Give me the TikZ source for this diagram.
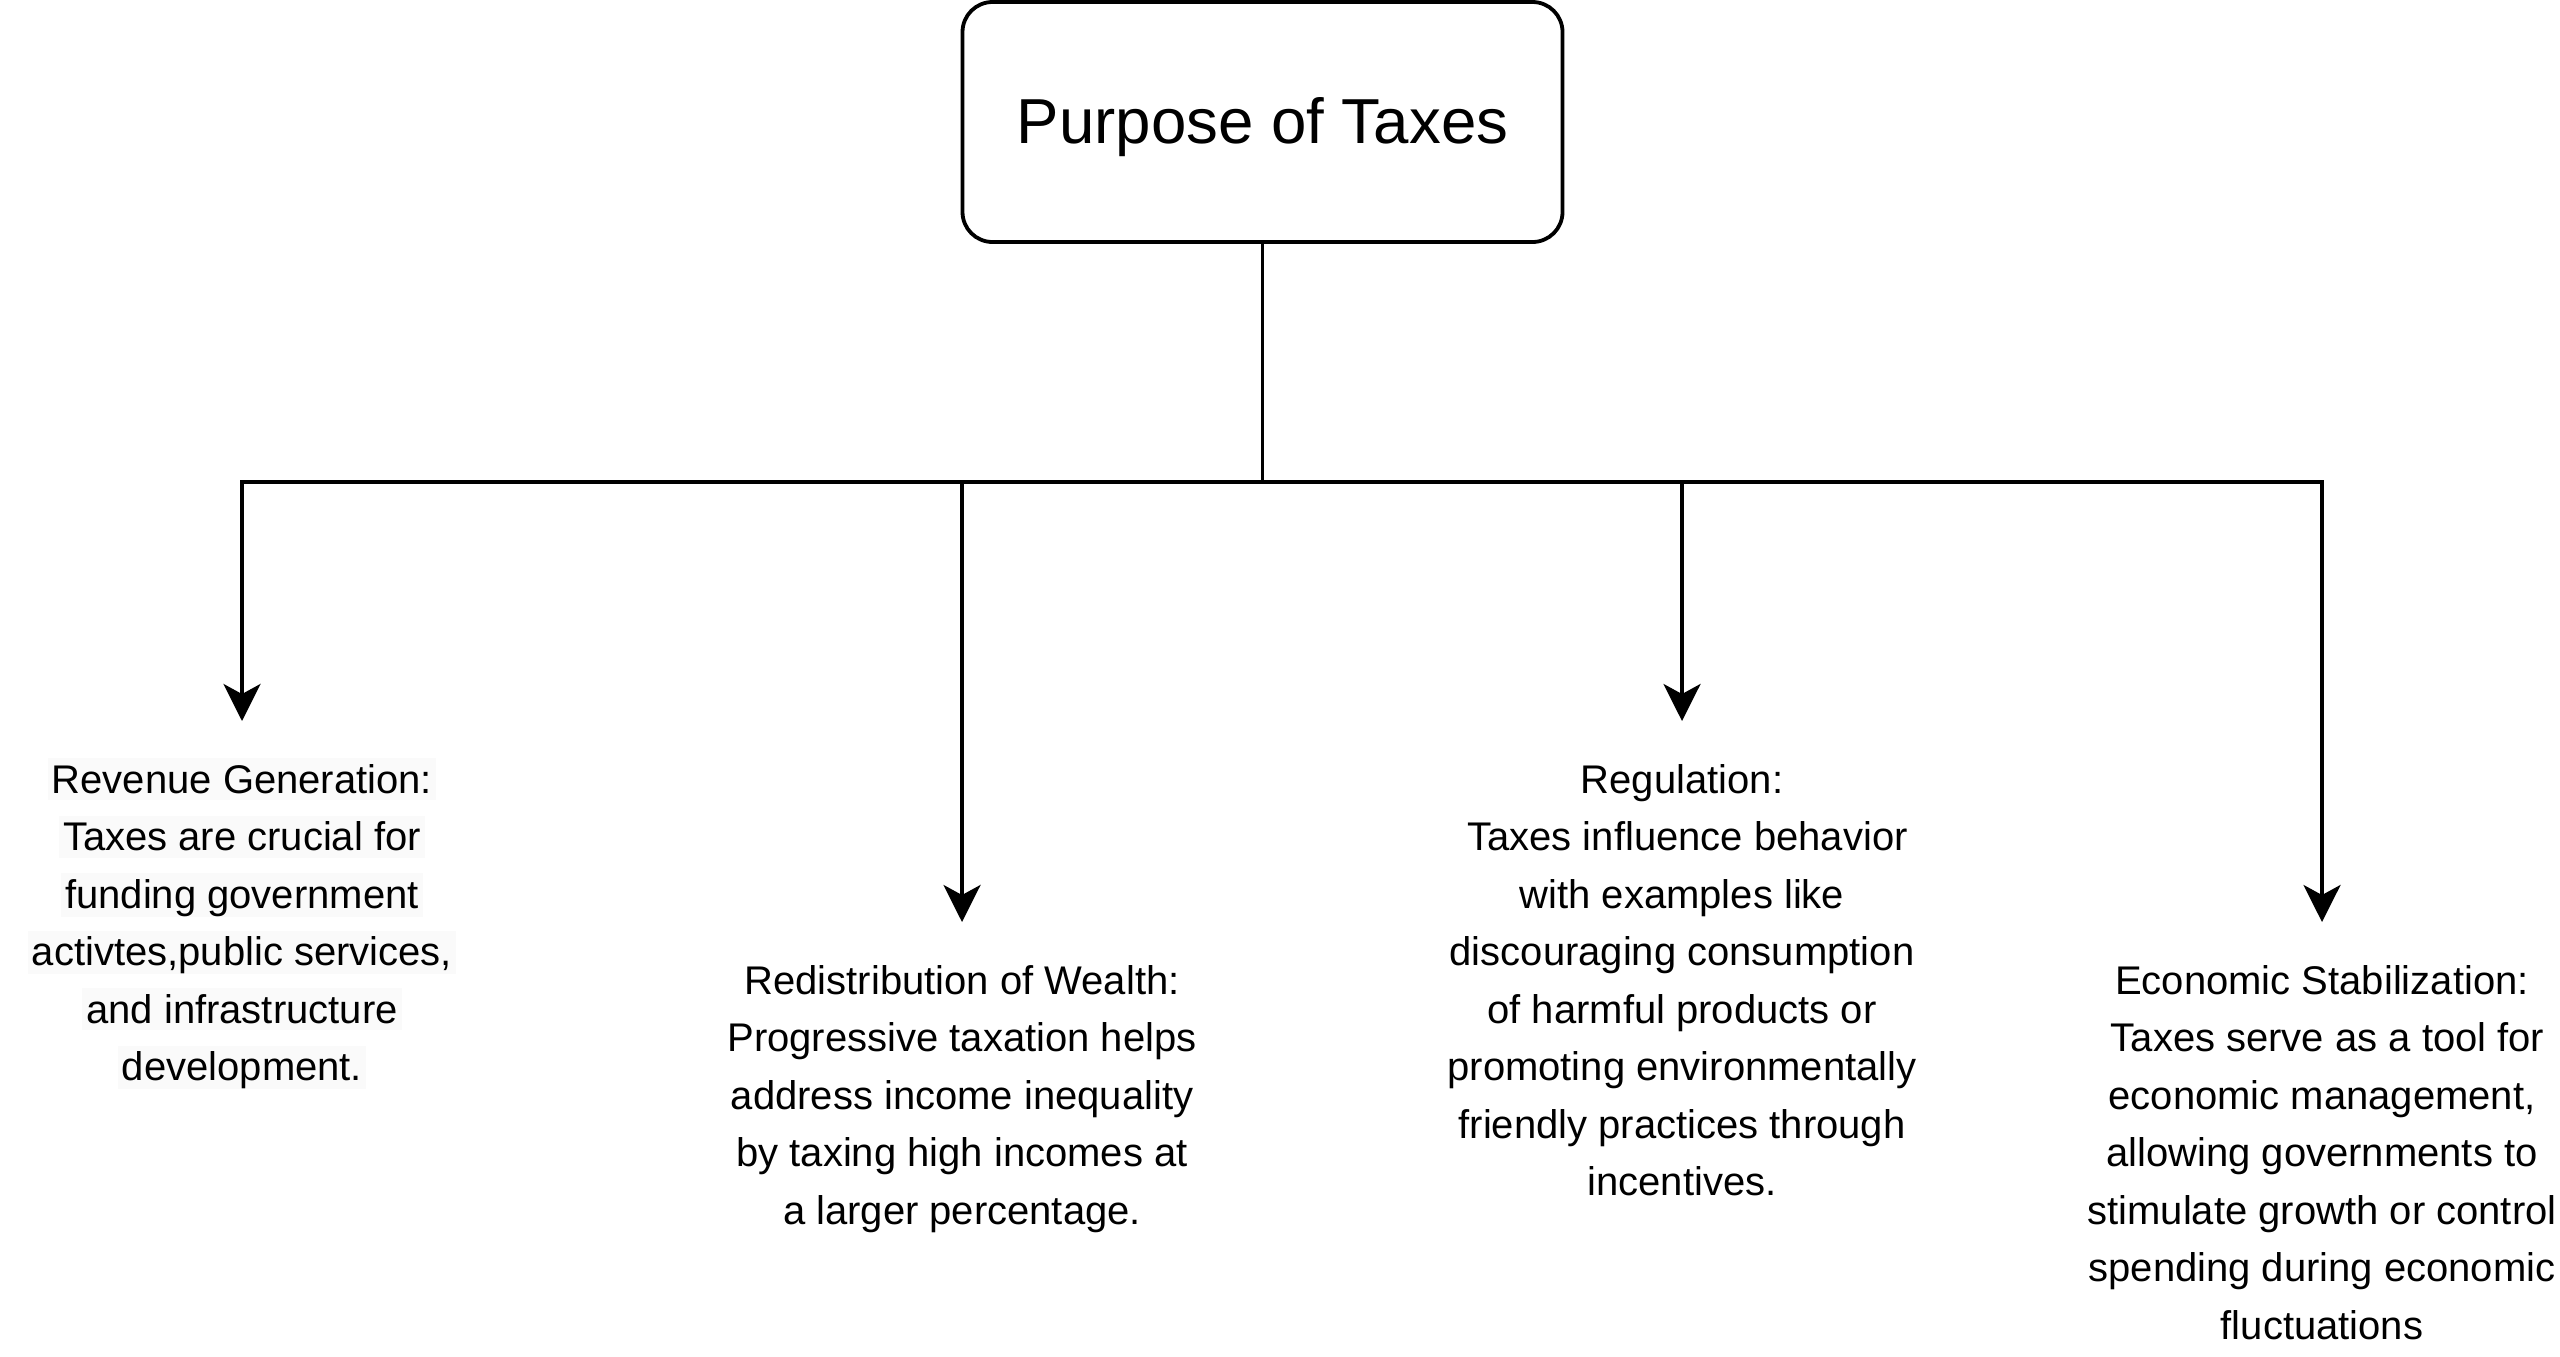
\documentclass[tikz,border=0pt]{standalone}
\usepackage{fontspec}
\setmainfont{Liberation Sans}
\usetikzlibrary{arrows.meta}
\definecolor{faintbg}{RGB}{250,250,250}
\newcommand\plainln[1]{\rule[-3.5pt]{0pt}{21pt}#1}
\newcommand\hlln[1]{{\fboxsep=0pt\colorbox{faintbg}{\hspace{2pt}\rule[-3.5pt]{0pt}{21pt}#1\hspace{2pt}}}}
\tikzset{
  rootbox/.style={draw=black, line width=1.9pt, rounded corners=15pt, fill=white,
    minimum width=300pt, minimum height=120pt, inner sep=0pt,
    text height=24pt, text depth=2.6pt,
    font=\fontsize{31.8pt}{38pt}\selectfont},
  bodytext/.style={anchor=north, inner sep=0pt, align=center,
    font=\fontsize{20pt}{28.75pt}\selectfont},
  conn/.style={line width=1.9pt, draw=black},
  arr/.style={conn, -{Stealth[length=18.5pt, width=18.5pt, inset=5pt]}, shorten >=18.5pt}
}
\begin{document}
\begin{tikzpicture}[x=0.5pt, y=-0.5pt]
\useasboundingbox (0,0) rectangle (2560,1356);

\node[rootbox] (root) at (1262.5,122) {Purpose of Taxes};

\coordinate (bus) at (1262.5,482);

\node[bodytext] (rev) at (242,758) {%
\hlln{Revenue Generation:}\\
\hlln{Taxes are crucial for}\\
\hlln{funding government}\\
\hlln{activtes,public services,}\\
\hlln{and infrastructure}\\
\hlln{development.}};

\node[bodytext] (red) at (962,959) {%
\plainln{Redistribution of Wealth:}\\
\plainln{Progressive taxation helps}\\
\plainln{address income inequality}\\
\plainln{by taxing high incomes at}\\
\plainln{a larger percentage.}};

\node[bodytext] (reg) at (1682,758) {%
\plainln{Regulation:}\\
\plainln{~Taxes influence behavior}\\
\plainln{with examples like}\\
\plainln{discouraging consumption}\\
\plainln{of harmful products or}\\
\plainln{promoting environmentally}\\
\plainln{friendly practices through}\\
\plainln{incentives.}};

\node[bodytext] (eco) at (2322,959) {%
\plainln{Economic Stabilization:}\\
\plainln{~Taxes serve as a tool for}\\
\plainln{economic management,}\\
\plainln{allowing governments to}\\
\plainln{stimulate growth or control}\\
\plainln{spending during economic}\\
\plainln{fluctuations}};

\draw[conn] (root.south) -- (bus);
\draw[arr] (bus) -| (rev.north);
\draw[arr] (bus) -| (red.north);
\draw[arr] (bus) -| (reg.north);
\draw[arr] (bus) -| (eco.north);
\end{tikzpicture}
\end{document}
